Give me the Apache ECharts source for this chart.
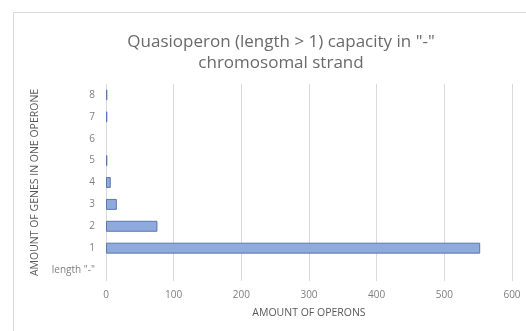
<!DOCTYPE html>
<html>
<head>
<meta charset="utf-8">
<script src="https://cdn.jsdelivr.net/npm/echarts@6/dist/echarts.min.js"></script>
<style>
  html, body { margin: 0; padding: 0; background: #ffffff; }
  #chart { width: 526px; height: 331px; }
</style>
</head>
<body>
<div id="chart"></div>
<script>
// Number of genes per quasioperon (bottom to top)
const categories = ['length "-"', '1', '2', '3', '4', '5', '6', '7', '8'];
// Amount of operons for each gene count
const operonCounts = [0, 553, 76, 16, 7, 2, 0, 2, 2];
// Value axis ticks
const xTicks = [0, 100, 200, 300, 400, 500, 600];

const chart = echarts.init(document.getElementById('chart'), null, { renderer: 'canvas' });
const font = '"Open Sans", "Liberation Sans", sans-serif';

// Empty categories get no outline so nothing shows at zero
const barData = operonCounts.map(v => v === 0
  ? { value: v, itemStyle: { borderWidth: 0 } }
  : v);

chart.setOption({
  backgroundColor: '#ffffff',
  animation: false,
  graphic: [{
    type: 'rect',
    shape: { x: 13.5, y: 12.5, width: 600, height: 400 },
    style: { fill: 'none', stroke: '#d9d9d9', lineWidth: 1 },
    silent: true
  }],
  title: {
    text: 'Quasioperon (length > 1) capacity in "-"\nchromosomal strand',
    left: 276,
    top: 27,
    textAlign: 'center',
    textStyle: { fontFamily: font, fontSize: 17, fontWeight: 'normal', color: '#6a6a6a', lineHeight: 21 }
  },
  grid: { left: 106, right: 14, top: 84, bottom: 50, containLabel: false },
  xAxis: {
    type: 'value',
    min: xTicks[0],
    max: xTicks[xTicks.length - 1],
    interval: 100,
    name: 'AMOUNT OF OPERONS',
    nameLocation: 'middle',
    nameGap: 27,
    nameTextStyle: { fontFamily: font, fontSize: 10.5, color: '#595959' },
    axisLine: { show: false },
    axisTick: { show: false },
    axisLabel: { fontFamily: font, fontSize: 10, color: '#7f7f7f', margin: 9 },
    splitLine: { show: true, lineStyle: { color: '#d9d9d9', width: 1 } }
  },
  yAxis: {
    type: 'category',
    data: categories,
    name: 'AMOUNT OF GENES IN ONE OPERONE',
    nameLocation: 'middle',
    nameGap: 63,
    nameRotate: 90,
    nameTextStyle: { fontFamily: font, fontSize: 10.5, color: '#595959' },
    axisLine: { show: false },
    axisTick: { show: false },
    axisLabel: { fontFamily: font, fontSize: 10, color: '#7f7f7f', margin: 11 },
    splitLine: { show: false }
  },
  series: [{
    type: 'bar',
    data: barData,
    barWidth: '50%',
    itemStyle: { color: '#8faadc', borderColor: '#5a77b0', borderWidth: 1 }
  }]
});
</script>
</body>
</html>
